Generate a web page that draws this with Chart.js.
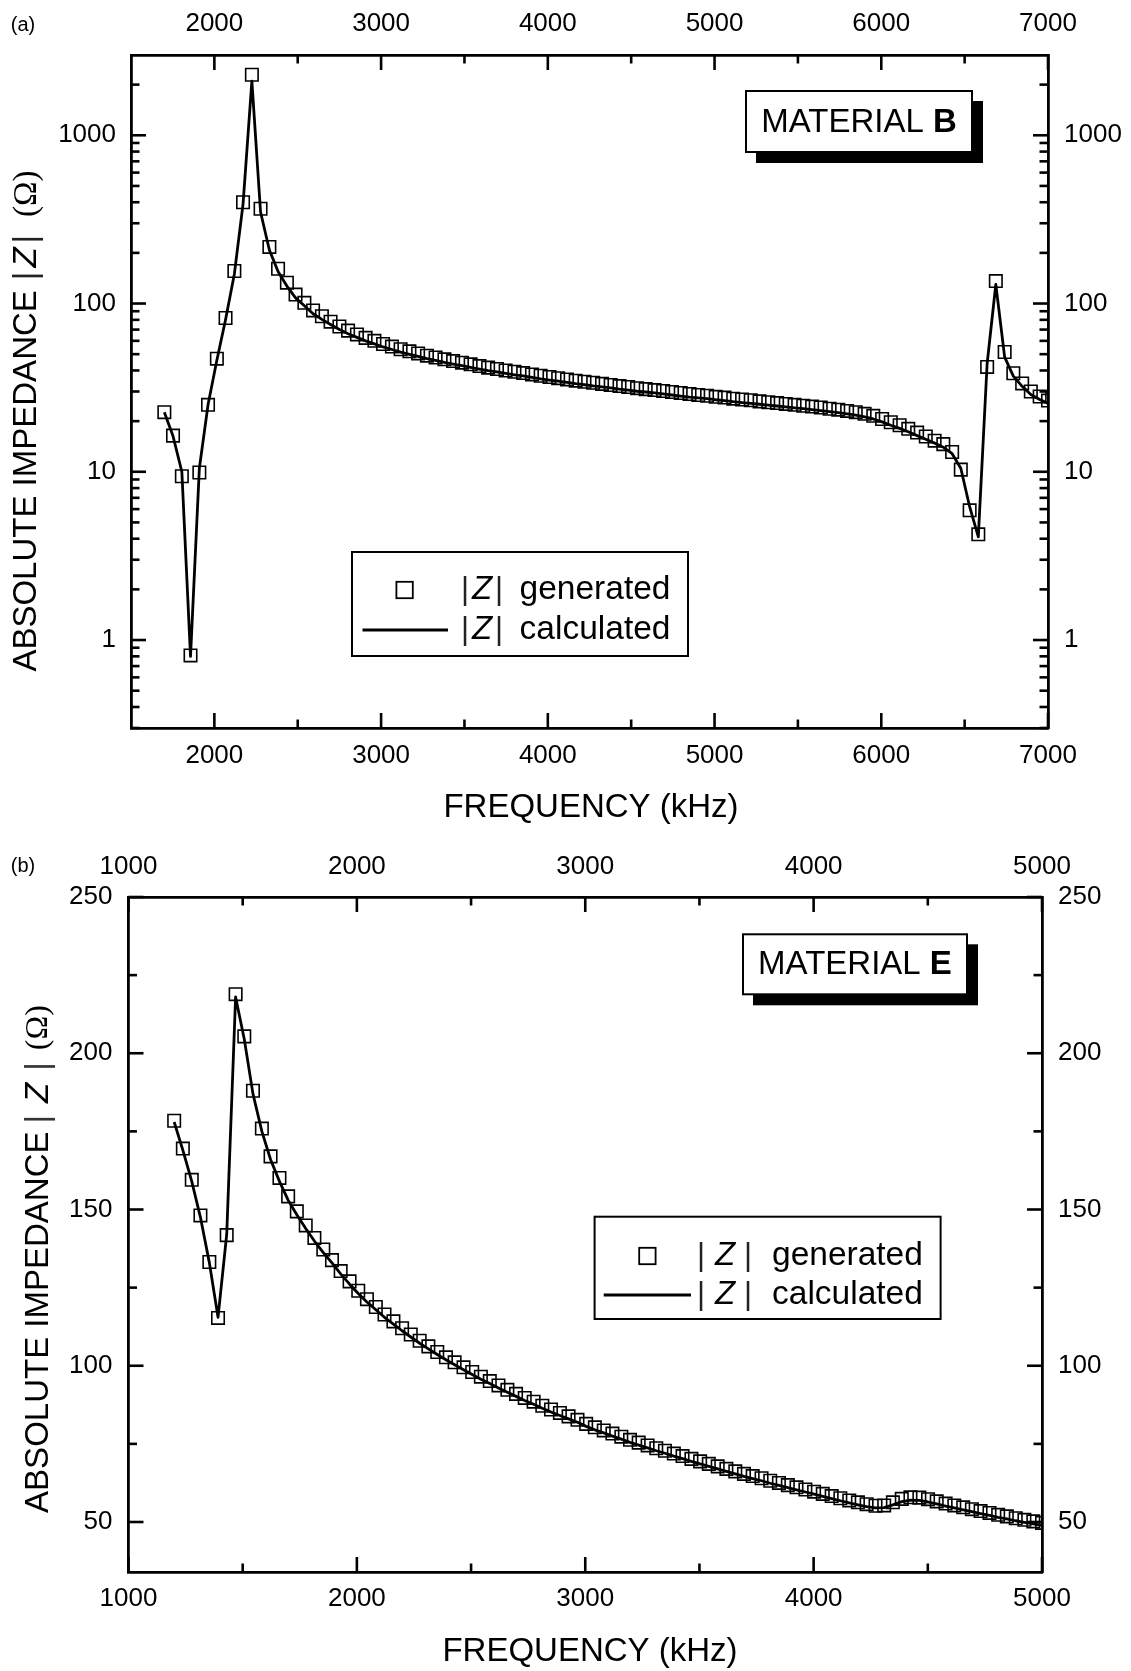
<!DOCTYPE html>
<html><head><meta charset="utf-8">
<script src="https://cdn.jsdelivr.net/npm/chart.js@4.4.1/dist/chart.umd.min.js"></script>
<style>
html,body{margin:0;padding:0;background:#fff;}
#wrap{position:relative;width:1131px;height:1671px;background:#fff;}
canvas{position:absolute;left:0;display:block;}
</style></head><body>
<div id="wrap">
<canvas id="ca" width="1131" height="836" style="top:0"></canvas>
<canvas id="cb" width="1131" height="835" style="top:836px"></canvas>
</div>
<script>
// ---------- DATA ----------
const freqA = [1700,1752,1805,1857,1910,1962,2015,2067,2120,2172,
2225,2277,2330,2382,2435,2487,2540,2592,2645,2697,
2750,2802,2855,2907,2960,3012,3065,3117,3170,3222,
3275,3327,3380,3432,3485,3537,3590,3642,3695,3747,
3800,3852,3905,3957,4010,4062,4115,4167,4220,4272,
4325,4377,4430,4482,4535,4587,4640,4692,4745,4797,
4850,4902,4955,5007,5060,5112,5165,5217,5270,5322,
5375,5427,5480,5532,5585,5637,5690,5742,5795,5847,
5900,5952,6005,6057,6110,6162,6215,6267,6320,6372,
6425,6477,6530,6582,6635,6687,6740,6792,6845,6897,
6950,7000];
const zGenA = [22.6,16.4,9.4,0.81,9.9,25,47,82,156,400,
2290,366,217,161,133,113,101,91,84,78,
73,69,65.5,62.5,60,57.5,55.5,53.5,52,50.5,
49,47.8,46.6,45.5,44.5,43.5,42.5,41.6,40.8,40,
39.3,38.6,37.9,37.2,36.6,36,35.4,34.8,34.3,33.8,
33.3,32.8,32.3,31.9,31.4,31,30.6,30.2,29.8,29.4,
29,28.6,28.3,27.9,27.6,27.2,26.9,26.6,26.2,25.9,
25.6,25.3,25,24.7,24.4,24.1,23.7,23.4,23.0,22.6,
22.1,21.5,20.6,19.7,18.9,18.0,17.1,16.2,15.3,14.6,
13.1,10.3,5.9,4.25,42,136,51.5,38.5,33.5,30,
28,26.5];
const zCalcA = [22.6,16.3,10.0,0.8,10.5,25,46,80,150,390,
2100,350,208,155,127,108,97,87,80.5,75,
70,66.2,62.9,60,57.6,55.2,53.3,51.4,49.9,48.5,
47,45.9,44.7,43.7,42.7,41.8,40.8,39.9,39.2,38.4,
37.7,37.1,36.4,35.7,35.1,34.6,34.0,33.4,32.9,32.4,
32.0,31.5,31.0,30.6,30.1,29.8,29.4,29.0,28.6,28.2,
27.8,27.5,27.2,26.8,26.5,26.1,25.8,25.5,25.2,24.9,
24.6,24.3,24.0,23.7,23.4,23.1,22.8,22.5,22.1,21.7,
21.2,20.6,19.8,18.9,18.1,17.3,16.4,15.6,14.8,14.0,
12.8,10.5,6.2,4.1,44,130,48,37,32.2,28.8,
26.9,25.5];

const freqB = [1200,1238,1277,1315,1354,1392,1430,1469,1507,1545,
1584,1622,1661,1699,1737,1776,1814,1853,1891,1929,
1968,2006,2044,2083,2121,2160,2198,2236,2275,2313,
2352,2390,2428,2467,2505,2543,2582,2620,2659,2697,
2735,2774,2812,2850,2889,2927,2966,3004,3042,3081,
3119,3158,3196,3234,3273,3311,3349,3388,3426,3465,
3503,3541,3580,3618,3657,3695,3733,3772,3810,3848,
3887,3925,3964,4002,4040,4079,4117,4156,4194,4232,
4271,4309,4347,4386,4424,4463,4501,4539,4578,4616,
4655,4693,4731,4770,4808,4846,4885,4923,4962,5000];
const zGenB = [178.4,169.5,159.5,148.1,133.2,115.3,141.8,218.9,205.4,188.0,
175.9,167.0,160.1,154.2,149.4,144.9,140.9,137.2,133.8,130.3,
127.0,124.0,121.3,118.8,116.4,114.2,112.0,110.0,108.0,106.2,
104.4,102.7,101.1,99.5,98.0,96.5,95.1,93.7,92.3,91.0,
89.7,88.5,87.2,86.0,84.9,83.8,82.7,81.4,80.3,79.3,
78.3,77.3,76.3,75.4,74.5,73.6,72.8,71.9,71.1,70.2,
69.4,68.6,67.8,67.0,66.2,65.4,64.7,64.0,63.2,62.5,
61.8,61.1,60.4,59.7,59.0,58.3,57.6,56.9,56.3,55.7,
55.2,55.3,56.3,57.4,57.9,57.8,57.3,56.6,55.9,55.3,
54.7,54.1,53.5,52.9,52.3,51.8,51.2,50.7,50.2,49.7];
const zCalcB = [178,169,159,147.5,133,115.5,142,218,204.5,187,
175,166,159,153,148.3,143.9,139.9,136.2,132.9,129.4,
126.1,123.1,120.4,117.9,115.5,113.3,111.2,109.2,107.2,105.4,
103.6,101.9,100.3,98.7,97.2,95.7,94.3,92.9,91.5,90.2,
88.9,87.7,86.4,85.2,84.1,83.0,81.9,80.6,79.5,78.5,
77.5,76.5,75.5,74.6,73.7,72.8,72.0,71.1,70.3,69.4,
68.6,67.8,67.0,66.2,65.4,64.6,63.9,63.2,62.4,61.7,
61.0,60.3,59.6,58.9,58.2,57.5,56.8,56.1,55.5,54.9,
54.5,54.6,55.5,56.5,57.0,56.9,56.4,55.8,55.1,54.5,
53.9,53.3,52.7,52.1,51.5,51.0,50.4,49.9,49.4,48.9];

const xTicksA = [2000,3000,4000,5000,6000,7000];
const xMinorA = [2500,3500,4500,5500,6500];
const yTicksA = [1,10,100,1000];
const yMinorA = [0.3,0.4,0.5,0.6,0.7,0.8,0.9,2,3,4,5,6,7,8,9,20,30,40,50,60,70,80,90,200,300,400,500,600,700,800,900,2000];
const xTicksB = [1000,2000,3000,4000,5000];
const xMinorB = [1500,2500,3500,4500];
const yTicksB = [50,100,150,200,250];
const yMinorB = [75,125,175,225];

// ---------- HELPERS ----------
const FF = '"Liberation Sans", Arial, Helvetica, sans-serif';
const FS = '"Liberation Serif", "Times New Roman", serif';
Chart.defaults.font.family = FF;
Chart.defaults.color = '#000';

function pts(xs, ys){ return xs.map((x,i)=>({x:x, y:ys[i]})); }

function axis(pos, type, min, max, ticks, pad, fit){
  return {
    type: type, position: pos, min: min, max: max,
    grid: {display:false, drawTicks:false},
    border: {display:true, color:'#000', width:2.8},
    ticks: {color:'#000', font:{size:26, family:FF}, padding:pad, autoSkip:false,
            maxRotation:0, minRotation:0, callback: v => String(v)},
    afterBuildTicks: s => { s.ticks = ticks.map(v => ({value:v})); },
    afterFit: fit
  };
}

function seg(ctx,x1,y1,x2,y2){ ctx.beginPath(); ctx.moveTo(x1,y1); ctx.lineTo(x2,y2); ctx.stroke(); }

function drawInTicks(chart, xMaj, xMin, yMaj, yMin){
  const ctx = chart.ctx, a = chart.chartArea, sx = chart.scales.x, sy = chart.scales.y;
  ctx.save(); ctx.strokeStyle='#000'; ctx.lineWidth=2.6;
  const MJ=15, MN=8.5;
  xMaj.forEach(v=>{const p=sx.getPixelForValue(v); seg(ctx,p,a.bottom,p,a.bottom-MJ); seg(ctx,p,a.top,p,a.top+MJ);});
  xMin.forEach(v=>{const p=sx.getPixelForValue(v); seg(ctx,p,a.bottom,p,a.bottom-MN); seg(ctx,p,a.top,p,a.top+MN);});
  yMaj.forEach(v=>{const p=sy.getPixelForValue(v); seg(ctx,a.left,p,a.left+MJ,p); seg(ctx,a.right,p,a.right-MJ,p);});
  yMin.forEach(v=>{const p=sy.getPixelForValue(v); seg(ctx,a.left,p,a.left+MN,p); seg(ctx,a.right,p,a.right-MN,p);});
  ctx.restore();
}

function drawYTitle(ctx, cx, cy, segs){
  ctx.save();
  ctx.translate(cx, cy); ctx.rotate(-Math.PI/2);
  ctx.textBaseline='middle'; ctx.textAlign='left';
  let total=0;
  segs.forEach(s=>{ if(s.gap!==undefined) total+=s.gap; else { ctx.font=s.font; s.w=ctx.measureText(s.t).width; total+=s.w; } });
  let x=-total/2;
  segs.forEach(s=>{ if(s.gap!==undefined) x+=s.gap; else { ctx.font=s.font; ctx.fillStyle=s.c||'#000'; ctx.fillText(s.t,x,0); x+=s.w; } });
  ctx.restore();
}

function drawText(ctx, t, x, y, font, align){
  ctx.save(); ctx.font=font; ctx.fillStyle='#000'; ctx.textAlign=align||'center'; ctx.textBaseline='middle';
  ctx.fillText(t,x,y); ctx.restore();
}

function drawMaterial(ctx, x, y, w, h, letter){
  ctx.save();
  ctx.fillStyle='#000'; ctx.fillRect(x+10, y+10, w+1, h+1);
  ctx.fillStyle='#fff'; ctx.fillRect(x, y, w, h);
  ctx.lineWidth=2; ctx.strokeStyle='#000'; ctx.strokeRect(x, y, w, h);
  ctx.textBaseline='middle'; ctx.textAlign='left'; ctx.fillStyle='#000';
  ctx.font='33px '+FF; const t1='MATERIAL '; const w1=ctx.measureText(t1).width;
  ctx.font='bold 33px '+FF; const w2=ctx.measureText(letter).width;
  const sx=x+w/2-(w1+w2)/2, cy=y+h/2+1;
  ctx.font='33px '+FF; ctx.fillText(t1, sx, cy);
  ctx.font='bold 33px '+FF; ctx.fillText(letter, sx+w1, cy);
  ctx.restore();
}

function drawLegend(ctx, L){
  ctx.save();
  ctx.fillStyle='#fff'; ctx.fillRect(L.x, L.y, L.w, L.h);
  ctx.lineWidth=2; ctx.strokeStyle='#000'; ctx.strokeRect(L.x, L.y, L.w, L.h);
  ctx.lineWidth=1.8; ctx.strokeRect(L.sq-8.2, L.r1-8.2, 16.4, 16.4);
  ctx.lineWidth=2.8; seg(ctx, L.l1, L.r2, L.l2, L.r2);
  ctx.fillStyle='#000'; ctx.textBaseline='middle';
  [[L.r1,'generated'],[L.r2,'calculated']].forEach(([ry,t])=>{
    ctx.textAlign='center';
    ctx.font='31px '+FF; ctx.fillStyle='#222';
    ctx.fillText('|', L.b1, ry); ctx.fillText('|', L.b2, ry);
    ctx.fillStyle='#000';
    ctx.font='italic 33px '+FF; ctx.fillText('Z', L.z, ry);
    ctx.textAlign='left'; ctx.font='33.5px '+FF; ctx.fillText(t, L.t, ry);
  });
  ctx.restore();
}

function lineDatasets(freq, gen, calc){
  return [
    {data: pts(freq, gen), showLine:false, pointStyle:'rect', pointRadius:8.8, pointHoverRadius:8.8,
     pointBorderWidth:1.6, pointBorderColor:'#000', pointBackgroundColor:'rgba(0,0,0,0)',
     borderColor:'#000', xAxisID:'x', yAxisID:'y'},
    {data: pts(freq, calc), showLine:true, pointRadius:0, pointHoverRadius:0, borderColor:'#000',
     borderWidth:2.8, borderJoinStyle:'round', tension:0, fill:false, xAxisID:'x', yAxisID:'y'}
  ];
}

// ---------- CHART A ----------
const plugA = {
  id:'decoA',
  afterDraw(chart){
    const ctx = chart.ctx;
    drawInTicks(chart, xTicksA, xMinorA, yTicksA, yMinorA);
    drawText(ctx, '(a)', 23, 25, '20px '+FF);
    drawText(ctx, 'FREQUENCY (kHz)', 591, 808, '33px '+FF);
    drawYTitle(ctx, 27, 421, [
      {t:'ABSOLUTE IMPEDANCE', font:'33px '+FF}, {gap:10},
      {t:'|', font:'33px '+FF, c:'#222'}, {gap:4},
      {t:'Z', font:'italic 33px '+FF}, {gap:4},
      {t:'|', font:'33px '+FF, c:'#222'}, {gap:18},
      {t:'(Ω)', font:'33px '+FS}
    ]);
    drawMaterial(ctx, 746, 91, 226, 61, 'B');
    drawLegend(ctx, {x:352, y:552, w:336, h:104, r1:590, r2:630, sq:404.6, l1:362.5, l2:448, b1:465, z:482, b2:499, t:519.6});
  }
};

new Chart(document.getElementById('ca'), {
  type:'line',
  data:{ datasets: lineDatasets(freqA, zGenA, zCalcA) },
  options:{
    responsive:false, animation:false, events:[],
    layout:{padding:0},
    plugins:{legend:{display:false}, tooltip:{enabled:false}, title:{display:false}},
    scales:{
      x: axis('bottom','linear',1500,7000,xTicksA,12.4, s=>{s.height=108;}),
      x2: axis('top','linear',1500,7000,xTicksA,15.4, s=>{s.height=55;}),
      y: axis('left','logarithmic',0.3,3000,yTicksA,15, s=>{s.width=131;}),
      y2: axis('right','logarithmic',0.3,3000,yTicksA,16, s=>{s.width=83;})
    }
  },
  plugins:[plugA]
});

// ---------- CHART B ----------
const plugB = {
  id:'decoB',
  afterDraw(chart){
    const ctx = chart.ctx;
    drawInTicks(chart, xTicksB, xMinorB, yTicksB, yMinorB);
    drawText(ctx, '(b)', 23, 30.7, '20px '+FF);
    drawText(ctx, 'FREQUENCY (kHz)', 590, 815.7, '33px '+FF);
    drawYTitle(ctx, 39, 423, [
      {t:'ABSOLUTE IMPEDANCE', font:'33px '+FF}, {gap:8},
      {t:'|', font:'33px '+FF, c:'#333'}, {gap:12},
      {t:'Z', font:'italic 33px '+FF}, {gap:12},
      {t:'|', font:'33px '+FF, c:'#333'}, {gap:12},
      {t:'(Ω)', font:'32px '+FS}
    ]);
    drawMaterial(ctx, 743, 98.3, 224, 60, 'E');
    drawLegend(ctx, {x:594.6, y:380.7, w:346, h:102.3, r1:420, r2:459, sq:647.4, l1:603.7, l2:691, b1:701, z:725, b2:748, t:772});
  }
};

new Chart(document.getElementById('cb'), {
  type:'line',
  data:{ datasets: lineDatasets(freqB, zGenB, zCalcB) },
  options:{
    responsive:false, animation:false, events:[],
    layout:{padding:0},
    plugins:{legend:{display:false}, tooltip:{enabled:false}, title:{display:false}},
    scales:{
      x: axis('bottom','linear',1000,5000,xTicksB,11.4, s=>{s.height=99;}),
      x2: axis('top','linear',1000,5000,xTicksB,14.7, s=>{s.height=61;}),
      y: axis('left','linear',34,250,yTicksB,16, s=>{s.width=128.5;}),
      y2: axis('right','linear',34,250,yTicksB,16, s=>{s.width=89;})
    }
  },
  plugins:[plugB]
});
</script>
</body></html>
